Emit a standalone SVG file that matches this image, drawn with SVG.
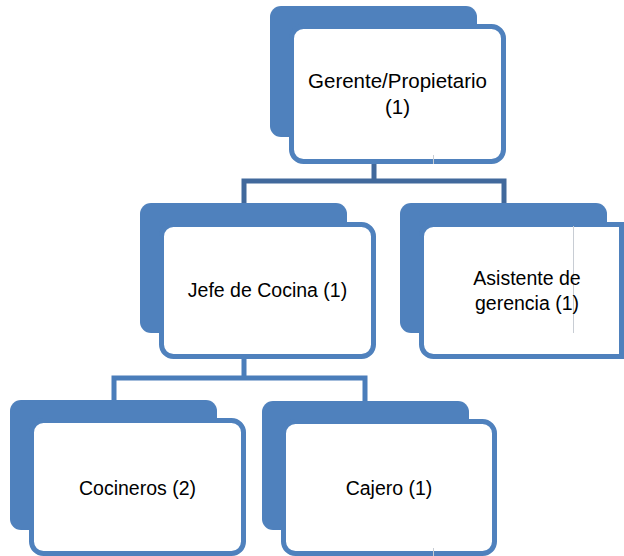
<svg xmlns="http://www.w3.org/2000/svg" width="624" height="556" viewBox="0 0 624 556">
<style>
.back{fill:#4F81BD;}
.front{fill:#FFFFFF;stroke:#4F81BD;stroke-width:5;}
.lbl{font-family:"Liberation Sans",Arial,sans-serif;font-size:19.5px;fill:#000;text-anchor:middle;}
.big{font-size:20.5px;}
.c1{fill:none;stroke:#41699C;stroke-width:5;}
.c2{fill:none;stroke:#4A7DBA;stroke-width:5;}
.art{stroke:#C8CDD4;stroke-width:1;}
</style>
<rect width="624" height="556" fill="#FFFFFF"/>
<g id="connectors">
<path class="c1" d="M374,160 V181 M244,181 H504 M244,178.5 V203 M504,178.5 V203"/>
<path class="c2" d="M244,355 V378 M114,378 H365 M114,375.5 V401 M365,375.5 V401"/>
</g>
<g id="gerente">
<rect class="back" x="270" y="6" width="207" height="131" rx="11"/>
<rect class="front" x="291.5" y="26.5" width="212" height="135" rx="12"/>
<line class="art" x1="433.5" y1="155" x2="433.5" y2="164"/>
<text class="lbl big" x="397.5" y="88">Gerente/Propietario</text>
<text class="lbl big" x="397.5" y="114">(1)</text>
</g>
<g id="jefe">
<rect class="back" x="140" y="203" width="207" height="130" rx="11"/>
<rect class="front" x="161.5" y="224.5" width="212" height="132" rx="12"/>
<text class="lbl" x="267.5" y="297">Jefe de Cocina (1)</text>
</g>
<g id="asistente">
<rect class="back" x="400" y="203" width="207" height="130" rx="11"/>
<path class="front" d="M433.5,224.5 H621.5 V356.5 H433.5 A12,12 0 0 1 421.5,344.5 V236.5 A12,12 0 0 1 433.5,224.5 Z"/>
<line class="art" x1="573.5" y1="226" x2="573.5" y2="333"/>
<text class="lbl" x="527" y="285">Asistente de</text>
<text class="lbl" x="527" y="310">gerencia (1)</text>
</g>
<g id="cocineros">
<rect class="back" x="10" y="400" width="207" height="130" rx="11"/>
<rect class="front" x="31.5" y="420.5" width="212" height="133" rx="12"/>
<text class="lbl" x="137.5" y="495">Cocineros (2)</text>
</g>
<g id="cajero">
<rect class="back" x="262" y="401" width="207" height="129" rx="11"/>
<rect class="front" x="283.5" y="421.5" width="211" height="132" rx="12"/>
<line class="art" x1="433.5" y1="548" x2="433.5" y2="556"/>
<text class="lbl" x="389" y="495">Cajero (1)</text>
</g>
</svg>
